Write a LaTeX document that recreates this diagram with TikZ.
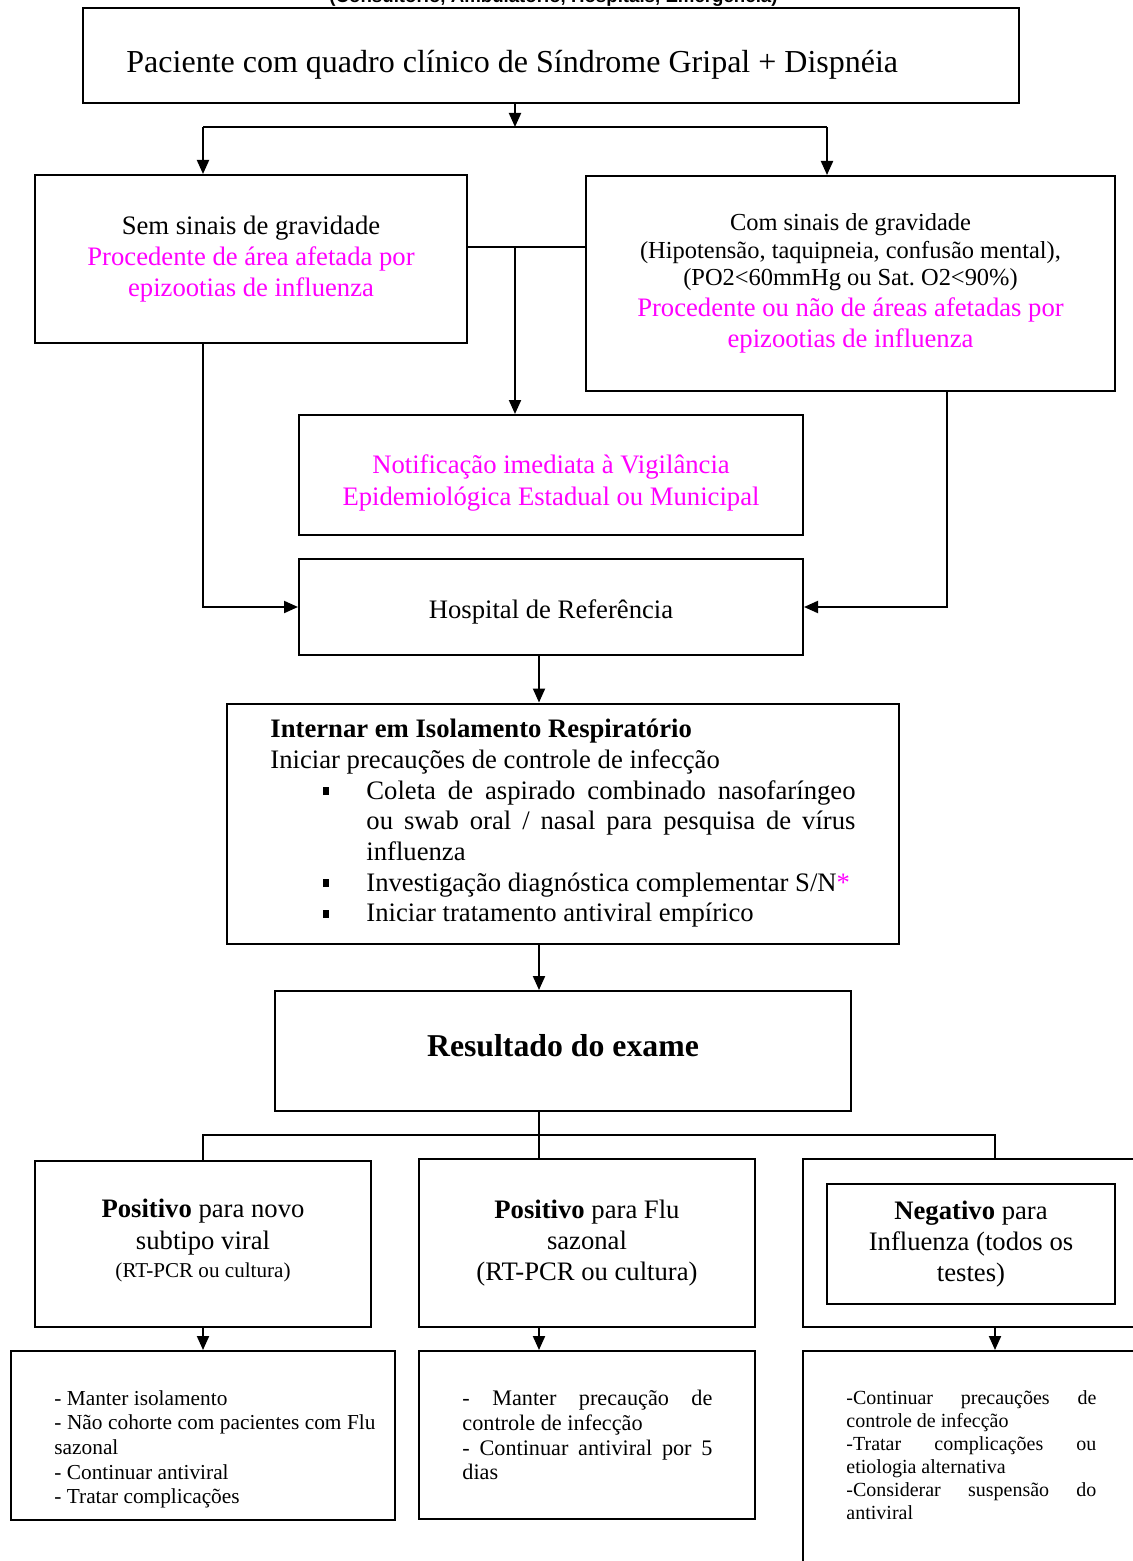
\documentclass[tikz,border=0pt]{standalone}
\usepackage{fontspec}
\setmainfont{Liberation Serif}
\newfontfamily\placefont{Liberation Sans}
\usetikzlibrary{arrows.meta}
\definecolor{flumag}{RGB}{255,0,255}
\frenchspacing
\def\pxs{0.45pt}
\newcommand{\sqbullet}{\rule[0.16em]{2.7pt}{3.6pt}}
\tikzset{
  card/.style={draw, line width=0.9pt, inner sep=0pt, align=center},
  sized/.style 2 args={minimum width=#1*\pxs, minimum height=#2*\pxs},
  link/.style={line width=0.9pt},
  arr/.style={line width=0.9pt, -{Triangle[length=6.3pt,width=5.4pt]}},
  body/.style={font=\fontsize{12}{14}\selectfont},
}
\begin{document}
\begin{tikzpicture}[x=0.45pt, y=-0.45pt]
    \useasboundingbox (0,0) rectangle (1133,1561);
    \clip (0,0) rectangle (1133,1561);

    % cabecalho cortado
    \node[anchor=base, font=\placefont\bfseries\fontsize{8.4}{10}\selectfont] (place) at (553.5,2.5)
      {(Consultório, Ambulatório, Hospitais, Emergência)};

    % paciente
    \node[card, sized={936}{95}] (pac) at (551,55.5) {};
    \node[anchor=base west, inner sep=0pt, font=\fontsize{14.4}{17}\selectfont] (pactxt) at (126,72.5)
      {Paciente com quadro clínico de Síndrome Gripal + Dispnéia};

    % gravidade
    \node[card, body, sized={432}{168}] (sem) at (251,259)
      {Sem sinais de gravidade\\
       \textcolor{flumag}{Procedente de área afetada por}\\
       \textcolor{flumag}{epizootias de influenza}};
    \node[card, body, sized={529}{215}, text width=232pt, align=flush center] (com) at (850.5,283.5)
      {{\fontsize{11}{12.4}\selectfont Com sinais de gravidade\\
        (Hipotensão, taquipneia, confusão mental),\\
        (PO2<60mmHg ou Sat. O2<90\%)\par}
       {\color{flumag}Procedente ou não de áreas afetadas por\\
        epizootias de influenza\par}};

    % notificacao e hospital
    \node[card, sized={504}{120}] (noti) at (551,475) {};
    \node[body, inner sep=0pt, align=center, text=flumag] (notitxt) at ([yshift=-3.6pt]noti.center)
      {Notificação imediata à Vigilância\\ Epidemiológica Estadual ou Municipal};
    \node[card, sized={504}{96}] (hosp) at (551,607) {};
    \node[body, inner sep=0pt] (hosptxt) at ([yshift=-2.2pt]hosp.center) {Hospital de Referência};

    % internacao
    \node[card, sized={672}{240}, text width=263.3pt, align=justify,
          font=\fontsize{12}{13.8}\selectfont] (intr) at (563,823.5)
      {\textbf{Internar em Isolamento Respiratório}\\
       Iniciar precauções de controle de infecção
       \begin{list}{\sqbullet}{\setlength{\leftmargin}{43.2pt}\setlength{\labelwidth}{26.5pt}%
         \setlength{\labelsep}{16.7pt}\setlength{\itemsep}{0pt}\setlength{\parsep}{0pt}%
         \setlength{\topsep}{0pt}\setlength{\partopsep}{0pt}}
       \item Coleta de aspirado combinado nasofaríngeo\linebreak
             ou swab oral / nasal para pesquisa de vírus\linebreak influenza
       \item Investigação diagnóstica complementar S/N\textcolor{flumag}{*}
       \item Iniciar tratamento antiviral empírico
       \end{list}};

    % resultado
    \node[card, sized={576}{120}] (res) at (563,1051) {};
    \node[inner sep=0pt, font=\bfseries\fontsize{14.3}{17}\selectfont] (restxt) at ([yshift=2.2pt]res.center)
      {Resultado do exame};

    % resultados possiveis
    \node[card, sized={336}{166}] (p1) at (203,1244) {};
    \node[body, inner sep=0pt, text width=140pt, align=flush center] (p1txt) at ([yshift=1.6pt]p1.center)
      {\textbf{Positivo} para novo\\ subtipo viral\par
       {\fontsize{9.5}{12.6}\selectfont (RT-PCR ou cultura)\par}};
    \node[card, body, sized={336}{168}] (p2) at (587,1243)
      {\textbf{Positivo} para Flu\\ sazonal\\ (RT-PCR ou cultura)};
    \node[card, sized={347}{168}] (nout) at (976.5,1243) {};
    \node[card, body, sized={288}{120}] (nin) at (971,1244)
      {\textbf{Negativo} para\\ Influenza (todos os\\ testes)};

    % condutas
    \node[card, sized={384}{169}] (b1) at (203,1435.5) {};
    \node[anchor=north west, inner sep=0pt, text width=144.5pt, align=justify,
          font=\fontsize{9.6}{11.1}\selectfont] (b1txt) at (54,1390)
      {- Manter isolamento\par
       - Não cohorte com pacientes com Flu\linebreak sazonal\par
       - Continuar antiviral\par
       - Tratar complicações};
    \node[card, sized={336}{168}] (b2) at (587,1435) {};
    \node[anchor=north west, inner sep=0pt, text width=112.5pt, align=justify,
          font=\fontsize{10}{11.1}\selectfont] (b2txt) at (462,1390)
      {- Manter precaução de\linebreak controle de infecção\par
       - Continuar antiviral por 5\linebreak dias};
    \node[card, sized={347}{229}] (b3) at (976.5,1465.5) {};
    \node[anchor=north west, inner sep=0pt, text width=112.5pt, align=justify,
          font=\fontsize{9}{10.4}\selectfont] (b3txt) at (846,1390)
      {-Continuar precauções de\linebreak controle de infecção\par
       -Tratar complicações ou\linebreak etiologia alternativa\par
       -Considerar suspensão do\linebreak antiviral};

    % ligacoes
    \coordinate (ja) at (515,127);
    \coordinate (jal) at (203,127);
    \coordinate (jar) at (827,127);
    \coordinate (jb) at (515,247);
    \coordinate (jc) at (947,390);
    \coordinate (jd) at (539,1135);
    \coordinate (jdr) at (995,1135);

    \draw[arr] (ja |- pac.south) -- (ja);
    \draw[link] (jal) -- (jar);
    \draw[arr] (jal) -- (jal |- sem.north);
    \draw[arr] (jar) -- (jar |- com.north);
    \draw[link] (jb -| sem.east) -- (jb -| com.west);
    \draw[arr] (jb) -- (jb |- noti.north);
    \draw[arr] (jal |- sem.south) |- (hosp.west);
    \draw[arr] (jc |- com.south) |- (hosp.east);
    \draw[arr] (jd |- hosp.south) -- (jd |- intr.north);
    \draw[arr] (jd |- intr.south) -- (jd |- res.north);
    \draw[link] (jd |- res.south) -- (jd |- p2.north);
    \draw[link] (p1.north) |- (jdr) -- (jdr |- nout.north);
    \draw[arr] (p1.south) -- (b1.north);
    \draw[arr] (jd |- p2.south) -- (jd |- b2.north);
    \draw[arr] (jdr |- nout.south) -- (jdr |- b3.north);

\end{tikzpicture}
\end{document}
